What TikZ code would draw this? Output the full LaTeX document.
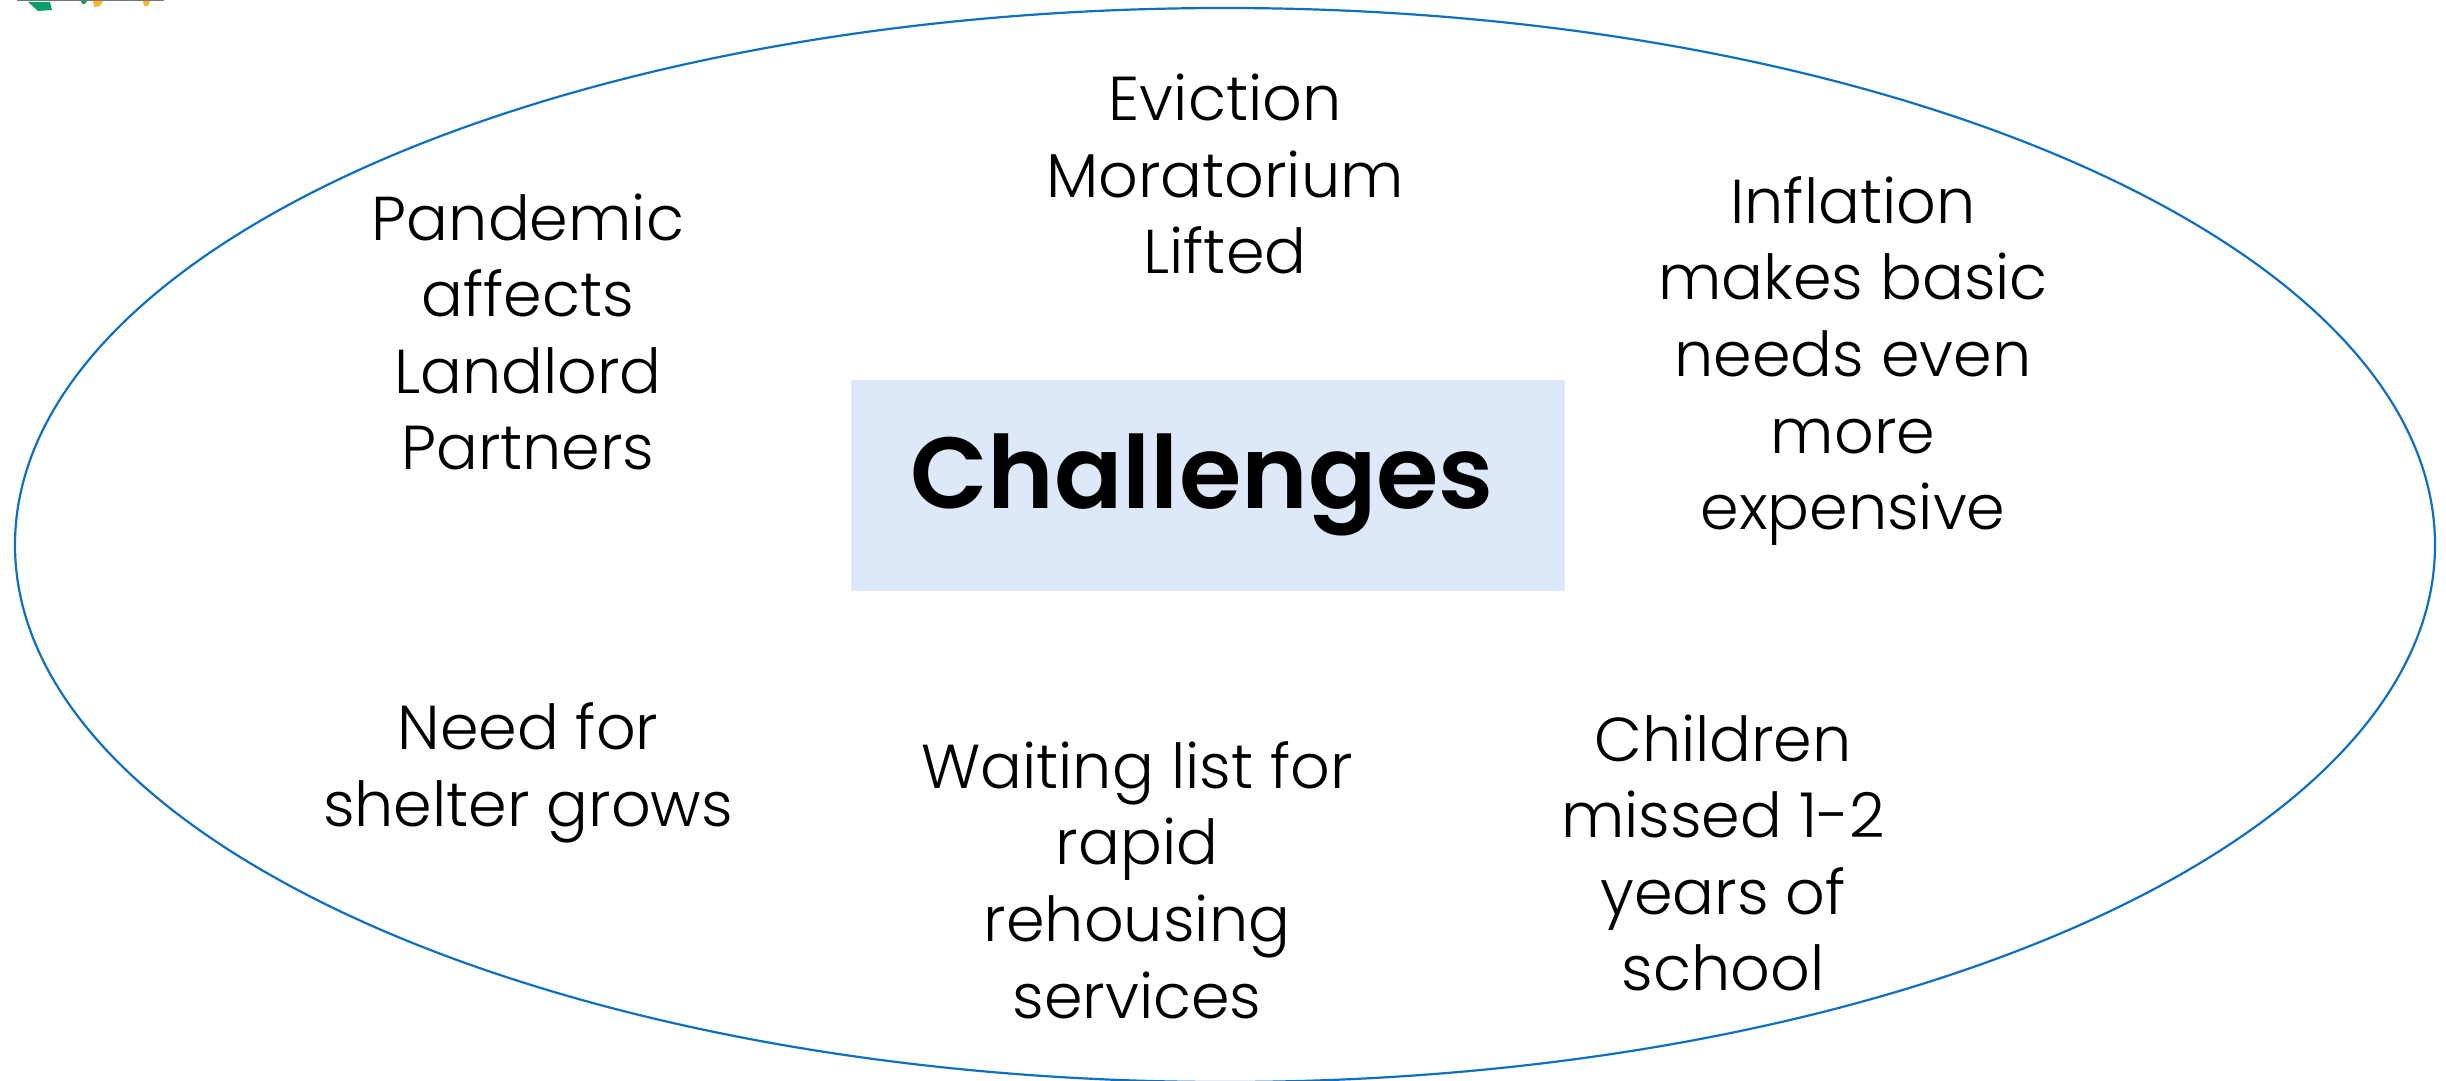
\documentclass[tikz,border=0pt]{standalone}
\usepackage{fontspec}
\setmainfont{Poppins}
\newfontfamily\lfont{Poppins Light}
\newfontfamily\hfont{Poppins SemiBold}
\definecolor{ringblue}{HTML}{0F6FC0}
\definecolor{boxblue}{HTML}{DDE8F9}
\definecolor{logogreen}{HTML}{0E9E6E}
\definecolor{logoyellow}{HTML}{F5B82E}
\begin{document}
\begin{tikzpicture}[x=1pt,y=-1pt,
lab/.style={align=center,font=\lfont\fontsize{62}{76.6}\selectfont,text=black,inner sep=0pt}]
\useasboundingbox (0,0) rectangle (2446,1081);
\fill[white] (0,0) rectangle (2446,1081);
\fill[gray!90!black] (17,0) rectangle (164,1.5);
\fill[logogreen] (28,2) -- (50,2) -- (52,10) -- (38,11) -- cycle;
\fill[logogreen] (81,1) -- (87,1) -- (85,4) -- (82,4) -- cycle;
\fill[logoyellow] (93,1) -- (103,1) -- (100,6) -- (94,7) -- cycle;
\fill[logoyellow] (143,1) -- (150,1) -- (148,6) -- (144,6) -- cycle;
\draw[color=ringblue,line width=2.2pt] (1225,545) ellipse [x radius=1210,y radius=537];
\node[fill=boxblue,minimum width=714,minimum height=211,inner sep=0pt,font=\hfont\fontsize{101}{120}\selectfont] (c) at (1208,485) {\hspace*{-12pt}Challenges};
\node[lab] (a) at (1225,174) {Eviction\\Moratorium\\Lifted};
\node[lab] (b) at (528,332) {Pandemic\\affects\\Landlord\\Partners};
\node[lab] (d) at (1853,361) {Inflation\\makes basic\\needs even\\more\\expensive};
\node[lab] (e) at (528,773) {Need for\\shelter grows};
\node[lab] (f) at (1137,880) {Waiting list for\\rapid\\rehousing\\services};
\node[lab] (g) at (1723,853) {Children\\missed 1-2\\years of\\school};
\end{tikzpicture}
\end{document}
